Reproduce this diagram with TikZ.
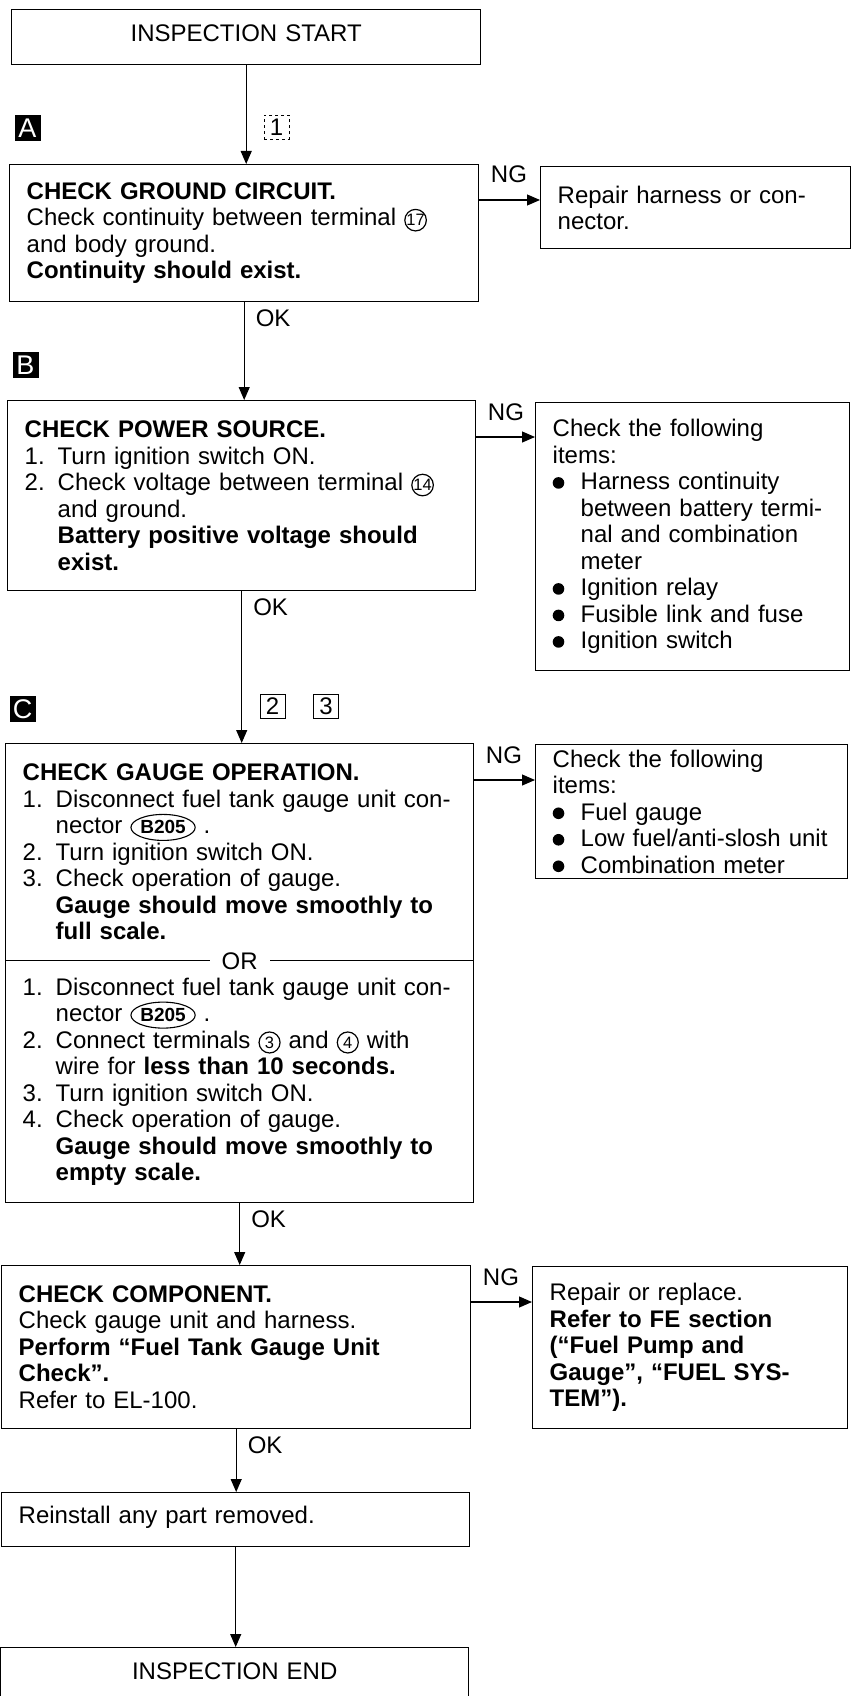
\documentclass[tikz,border=0pt]{standalone}
\usepackage{fontspec}
\setmainfont{Liberation Sans}
\usetikzlibrary{arrows.meta,shapes.geometric}

\newcommand{\circnum}[1]{\tikz[baseline=(cn.base)]\node[circle,draw,anchor=center,align=center,text width={},line width=1.2pt,inner sep=0pt,minimum size=21pt,font=\fontsize{16.5}{16.5}\selectfont] (cn) {#1};}
\newcommand{\conn}[1]{\tikz[baseline=(cc.base)]\node[ellipse,draw,anchor=center,align=center,text width={},line width=1.1pt,inner sep=0pt,minimum width=62pt,minimum height=26pt,font=\bfseries\fontsize{19}{19}\selectfont] (cc) {#1};}
\newcommand{\nitem}[1]{\makebox[33pt][l]{#1}}
\newcommand{\ncont}{\hspace*{33pt}}
\newcommand{\bitem}{\makebox[28pt][l]{\tikz[baseline=0pt]\fill (5.8pt,7pt) circle (5.8pt);}}
\newcommand{\bcont}{\hspace*{28pt}}

\begin{document}
\begin{tikzpicture}[x=1pt,y=-1pt,
    txt/.style={font=\fontsize{24}{26.5}\selectfont},
    box/.style={txt,draw,line width=1.4pt,anchor=north west,align=left,inner xsep=17pt,inner ysep=0pt},
    endbox/.style={box,align=center,text depth=9pt},
    secmark/.style={fill=black,text=white,inner sep=0pt,minimum width=26pt,minimum height=26pt,font=\fontsize{27}{27}\selectfont},
    numbox/.style={draw,line width=0.8pt,inner sep=0pt,minimum width=25pt,minimum height=24pt,font=\fontsize{24}{24}\selectfont},
    flow/.style={line width=1.1pt,-{Triangle[length=13pt,width=11pt]}},
    oktag/.style={txt,anchor=base west,xshift=11pt,yshift=-24pt,inner sep=0pt},
    ngtag/.style={txt,anchor=base west,xshift=11pt,yshift=17pt,inner sep=0pt}]
  \useasboundingbox (0,0) rectangle (851,1696);

  \node[endbox,text width=435pt,minimum height=55pt] (start) at (11,9) {INSPECTION START};

  \node[secmark] (mkA) at (27.5,128.5) {A};
  \node[numbox,dashed] (num1) at (276.5,127.5) {1};
  \node[box,text width=435pt,minimum height=137pt] (gndchk) at (9,164)
    {\textbf{CHECK GROUND CIRCUIT.}\\
     Check continuity between terminal \circnum{17}\\
     and body ground.\\
     \textbf{Continuity should exist.}};
  \node[box,text width=276pt,minimum height=82pt] (gndng) at (540,166)
    {Repair harness or con-\\nector.};

  \node[secmark] (mkB) at (25.5,365) {B};
  \node[box,text width=434pt,minimum height=190pt] (pwrchk) at (7,400)
    {\textbf{CHECK POWER SOURCE.}\\
     \nitem{1.}Turn ignition switch ON.\\
     \nitem{2.}Check voltage between terminal \circnum{14}\\
     \ncont and ground.\\
     \ncont\textbf{Battery positive voltage should}\\
     \ncont\textbf{exist.}};
  \node[box,text width=280pt,minimum height=268pt] (pwrng) at (535,402)
    {Check the following\\
     items:\\
     \bitem Harness continuity\\
     \bcont between battery termi-\\
     \bcont nal and combination\\
     \bcont meter\\
     \bitem Ignition relay\\
     \bitem Fusible link and fuse\\
     \bitem Ignition switch};

  \node[secmark] (mkC) at (22.5,709) {C};
  \node[numbox] (num2) at (272.5,706.5) {2};
  \node[numbox] (num3) at (326,706.5) {3};
  \node[box,text width=434pt,minimum height=217pt] (gaugeA) at (5,743)
    {\textbf{CHECK GAUGE OPERATION.}\\
     \nitem{1.}Disconnect fuel tank gauge unit con-\\
     \ncont nector \conn{B205} .\\
     \nitem{2.}Turn ignition switch ON.\\
     \nitem{3.}Check operation of gauge.\\
     \ncont\textbf{Gauge should move smoothly to}\\
     \ncont\textbf{full scale.}};
  \node[box,text width=434pt,minimum height=242pt] (gaugeB) at (5,960)
    {\nitem{1.}Disconnect fuel tank gauge unit con-\\
     \ncont nector \conn{B205} .\\
     \nitem{2.}Connect terminals \circnum{3} and \circnum{4} with\\
     \ncont wire for \textbf{less than 10 seconds.}\\
     \nitem{3.}Turn ignition switch ON.\\
     \nitem{4.}Check operation of gauge.\\
     \ncont\textbf{Gauge should move smoothly to}\\
     \ncont\textbf{empty scale.}};
  \node[txt,fill=white,inner xsep=12pt,inner ysep=1pt] (orsep) at (gaugeA.south) {OR};
  \node[box,text width=278pt,minimum height=134pt] (gaugeng) at (535,744)
    {Check the following\\
     items:\\
     \bitem Fuel gauge\\
     \bitem Low fuel/anti-slosh unit\\
     \bitem Combination meter};

  \node[box,text width=435pt,minimum height=163pt] (compchk) at (1,1265)
    {\textbf{CHECK COMPONENT.}\\
     Check gauge unit and harness.\\
     \textbf{Perform “Fuel Tank Gauge Unit}\\
     \textbf{Check”.}\\
     Refer to EL-100.};
  \node[box,text width=281pt,minimum height=162pt] (compng) at (532,1266)
    {Repair or replace.\\
     \textbf{Refer to FE section}\\
     \textbf{(“Fuel Pump and}\\
     \textbf{Gauge”, “FUEL SYS-}\\
     \textbf{TEM”).}};

  \node[box,text width=434pt,minimum height=54pt,text depth=9pt] (reinst) at (1,1492) {Reinstall any part removed.};
  \node[endbox,text width=434pt,minimum height=55pt] (finish) at (0,1647) {INSPECTION END};

  \coordinate (ngA) at ([yshift=-34pt]gndng.north west);
  \coordinate (ngB) at ([yshift=-35pt]pwrng.north west);
  \coordinate (ngC) at ([yshift=-36pt]gaugeng.north west);
  \coordinate (ngD) at ([yshift=-36pt]compng.north west);

  \draw[flow] (start.south) -- (start.south |- gndchk.north);
  \draw[flow] (gndchk.south) node[oktag] (okA) {OK} -- (gndchk.south |- pwrchk.north);
  \draw[flow] (pwrchk.south) node[oktag] (okB) {OK} -- (pwrchk.south |- gaugeA.north);
  \draw[flow] (gaugeB.south) node[oktag] (okC) {OK} -- (gaugeB.south |- compchk.north);
  \draw[flow] (compchk.south) node[oktag] (okD) {OK} -- (compchk.south |- reinst.north);
  \draw[flow] (reinst.south) -- (reinst.south |- finish.north);

  \draw[flow] (gndchk.east |- ngA) node[ngtag] (ngAtag) {NG} -- (ngA);
  \draw[flow] (pwrchk.east |- ngB) node[ngtag] (ngBtag) {NG} -- (ngB);
  \draw[flow] (gaugeA.east |- ngC) node[ngtag] (ngCtag) {NG} -- (ngC);
  \draw[flow] (compchk.east |- ngD) node[ngtag] (ngDtag) {NG} -- (ngD);
\end{tikzpicture}
\end{document}
